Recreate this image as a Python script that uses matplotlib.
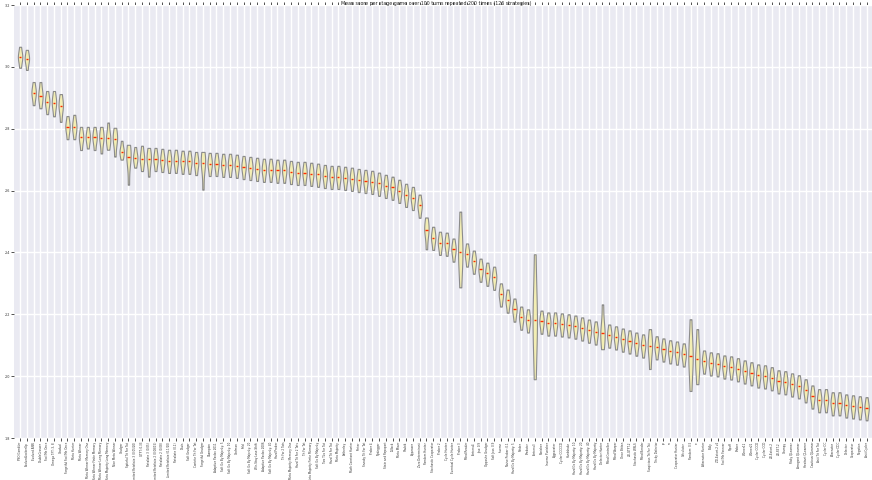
import matplotlib
matplotlib.use("Agg")
import matplotlib.pyplot as plt

# Strategy names in ranked order
strategies = [
    "PSO Gambler", "EvolvedLookerUp", "Evolved ANN", "DoubleCrosser", "Fool Me Once",
    "Omega TFT: 3, 8", "Gradual", "Forgetful Fool Me Once", "Meta Hunter", "Meta Winner",
    "Meta Winner Memory One", "Meta Winner Finite Memory", "Meta Winner Long Memory",
    "Meta Majority Long Memory", "Nice Meta Winner", "Grudger", "Spiteful Tit For Tat",
    "Limited Retaliate 3 (0.05/20)", "GTFT: 0.33", "Retaliate 3 (0.05)",
    "Limited Retaliate 2 (0.08/15)", "Retaliate 2 (0.08)", "Limited Retaliate (0.1/20)",
    "Retaliate (0.1)", "Davis", "Soft Grudger", "Contrite Tit For Tat", "Forgetful Grudger",
    "Champion", "Adaptive Pavlov 2011", "Soft Go By Majority: 5", "Soft Go By Majority: 10",
    "Grofman", "Feld", "Soft Go By Majority: 20", "Win-Stay Lose-Shift", "Adaptive Pavlov 2006",
    "Soft Go By Majority: 40", "Hard Prober", "Tit For 2 Tats", "Meta Majority Memory One",
    "Hard Tit For 2 Tats", "Tit For Tat", "Meta Majority Finite Memory", "Soft Go By Majority",
    "Two Tits For Tat", "Hard Tit For Tat", "Meta Majority", "Eatherley", "Math Constant Hunter",
    "Tester", "Sneaky Tit For Tat", "Prober 4", "Nydegger", "Stein and Rapoport", "Tullock",
    "Meta Mixer", "Shubik", "Appeaser", "Zero Determinant", "Random Hunter",
    "Stochastic Cooperator", "Prober 2", "Cycle Hunter", "Eventual Cycle Hunter", "Prober 3",
    "Mind Reader", "Fortress4", "Joss: 0.9", "Opposite Grudger", "Soft Joss: 0.9", "Inverse",
    "Naive Prober: 0.1", "Hard Go By Majority: 5", "Raider", "Predator", "Fortress3",
    "Punisher", "Inverse Punisher", "Aggravater", "Cycler CCCCCD", "Handshake",
    "Hard Go By Majority: 10", "Hard Go By Majority: 20", "Hard Go By Majority: 40",
    "Hard Go By Majority", "Defector Hunter", "Mind Controller", "Mind Warper", "Once Bitten",
    "ZD-GTFT-2", "Stochastic WSLS", "Mind Bender", "Suspicious Tit For Tat", "Tricky Defector",
    "φ", "π", "Cooperator Hunter", "Calculator", "Random: 0.5", "e", "Alternator Hunter",
    "Bully", "ZD-Extort-2 v2", "Fool Me Forever", "Ripoff", "Prober", "Winner12", "Winner21",
    "Cycler CCCD", "Cycler CCD", "ZD-Extort-2", "ZD-SET-2", "Grumpy", "Risky QLearner",
    "Arrogant QLearner", "Hesitant QLearner", "Cautious QLearner", "Anti Tit For Tat",
    "Cycler DC", "Alternator", "Cycler DDC", "Defector", "Cooperator", "Negation",
    "Anti Cycler",
]

# Median score per strategy
medians = [
    3.032, 3.026, 2.916, 2.906, 2.887, 2.884, 2.874, 2.806, 2.806, 2.772,
    2.772, 2.772, 2.771, 2.769, 2.768, 2.726, 2.710, 2.706, 2.703, 2.703,
    2.702, 2.698, 2.697, 2.697, 2.694, 2.694, 2.690, 2.690, 2.687, 2.687,
    2.684, 2.684, 2.681, 2.677, 2.674, 2.671, 2.668, 2.668, 2.665, 2.665,
    2.661, 2.658, 2.658, 2.655, 2.652, 2.648, 2.645, 2.645, 2.642, 2.639,
    2.635, 2.632, 2.629, 2.623, 2.616, 2.610, 2.600, 2.587, 2.577, 2.552,
    2.474, 2.448, 2.432, 2.429, 2.410, 2.403, 2.394, 2.371, 2.345, 2.332,
    2.319, 2.265, 2.245, 2.216, 2.190, 2.181, 2.181, 2.177, 2.171, 2.171,
    2.168, 2.165, 2.161, 2.155, 2.148, 2.142, 2.139, 2.132, 2.126, 2.119,
    2.113, 2.106, 2.100, 2.097, 2.094, 2.087, 2.081, 2.077, 2.071, 2.065,
    2.055, 2.048, 2.042, 2.039, 2.032, 2.029, 2.023, 2.016, 2.010, 2.003,
    2.000, 1.994, 1.984, 1.981, 1.974, 1.968, 1.955, 1.935, 1.923, 1.923,
    1.913, 1.913, 1.906, 1.903, 1.900, 1.897,
]

# Lowest score per strategy
lows = [
    2.997, 2.990, 2.876, 2.866, 2.847, 2.840, 2.822, 2.766, 2.766, 2.731,
    2.736, 2.731, 2.720, 2.732, 2.710, 2.700, 2.619, 2.674, 2.663, 2.645,
    2.663, 2.660, 2.657, 2.657, 2.654, 2.654, 2.650, 2.603, 2.647, 2.647,
    2.644, 2.644, 2.641, 2.637, 2.634, 2.631, 2.628, 2.628, 2.625, 2.625,
    2.621, 2.618, 2.618, 2.615, 2.612, 2.608, 2.605, 2.605, 2.602, 2.599,
    2.595, 2.592, 2.589, 2.583, 2.576, 2.570, 2.560, 2.547, 2.537, 2.512,
    2.410, 2.408, 2.392, 2.389, 2.370, 2.287, 2.354, 2.331, 2.305, 2.292,
    2.279, 2.225, 2.205, 2.176, 2.150, 2.141, 1.990, 2.137, 2.131, 2.131,
    2.128, 2.125, 2.121, 2.115, 2.108, 2.102, 2.087, 2.092, 2.086, 2.079,
    2.073, 2.066, 2.060, 2.023, 2.054, 2.047, 2.041, 2.037, 2.031, 1.952,
    1.974, 2.008, 2.002, 1.999, 1.992, 1.989, 1.983, 1.976, 1.970, 1.963,
    1.960, 1.954, 1.944, 1.941, 1.934, 1.928, 1.915, 1.895, 1.883, 1.883,
    1.873, 1.873, 1.866, 1.863, 1.860, 1.857,
]

# Highest score per strategy
highs = [
    3.065, 3.055, 2.951, 2.951, 2.922, 2.922, 2.912, 2.841, 2.845, 2.806,
    2.806, 2.806, 2.806, 2.820, 2.803, 2.761, 2.748, 2.741, 2.745, 2.738,
    2.738, 2.735, 2.732, 2.732, 2.729, 2.729, 2.725, 2.725, 2.722, 2.722,
    2.719, 2.719, 2.716, 2.712, 2.709, 2.706, 2.703, 2.703, 2.700, 2.700,
    2.696, 2.693, 2.693, 2.690, 2.687, 2.683, 2.680, 2.680, 2.677, 2.674,
    2.670, 2.667, 2.664, 2.658, 2.651, 2.645, 2.635, 2.622, 2.612, 2.587,
    2.513, 2.483, 2.467, 2.464, 2.445, 2.532, 2.429, 2.406, 2.380, 2.367,
    2.354, 2.300, 2.280, 2.251, 2.225, 2.216, 2.394, 2.212, 2.206, 2.206,
    2.203, 2.200, 2.196, 2.190, 2.183, 2.177, 2.232, 2.167, 2.161, 2.154,
    2.148, 2.141, 2.135, 2.152, 2.129, 2.122, 2.116, 2.112, 2.106, 2.184,
    2.152, 2.083, 2.077, 2.074, 2.067, 2.064, 2.058, 2.051, 2.045, 2.038,
    2.035, 2.029, 2.019, 2.016, 2.009, 2.003, 1.990, 1.970, 1.958, 1.958,
    1.948, 1.948, 1.941, 1.938, 1.935, 1.932,
]

title = "Mean score per stage game over 100 turns repeated 200 times (126 strategies)"

# samples for each violin: low, median (weighted), high
samples = [[lo, md, md, md, hi] for lo, md, hi in zip(lows, medians, highs)]
positions = list(range(1, len(strategies) + 1))

plt.rcParams["font.family"] = ["DejaVu Sans"]
fig = plt.figure(figsize=(8.72, 4.8), dpi=100)
ax = fig.add_axes([14 / 872, 42 / 480, 858 / 872, 433 / 480])
ax.set_facecolor("#EAEAF2")

parts = ax.violinplot(samples, positions=positions, widths=0.65,
                      showmedians=True, showextrema=False)
for body in parts["bodies"]:
    body.set_facecolor("#F3EEB4")
    body.set_edgecolor("#8C8C8C")
    body.set_linewidth(0.8)
    body.set_alpha(1)
parts["cmedians"].set_color("#FF2A00")
parts["cmedians"].set_linewidth(1.0)

ax.set_xlim(0.1, 126.8)
ax.set_ylim(1.8, 3.2)
ax.set_xticks(positions)
ax.set_xticklabels(strategies, rotation=90, fontsize=1.95, color="#333333")
ax.set_yticks([1.8, 2.0, 2.2, 2.4, 2.6, 2.8, 3.0, 3.2])
ax.set_yticklabels(["1.8", "2.0", "2.2", "2.4", "2.6", "2.8", "3.0", "3.2"],
                   fontsize=2.4, color="#333333")
ax.tick_params(axis="both", length=2, width=0.6, color="#333333", pad=0.8,
               top=True, direction="out")
ax.grid(True, color="white", linewidth=1.0)
ax.set_axisbelow(True)
for s in ax.spines.values():
    s.set_visible(False)
fig.text(0.5, 1 - 3 / 480, title, fontsize=3.4, ha="center", va="center",
         color="#222222")

fig.savefig("out.png", dpi=100)
